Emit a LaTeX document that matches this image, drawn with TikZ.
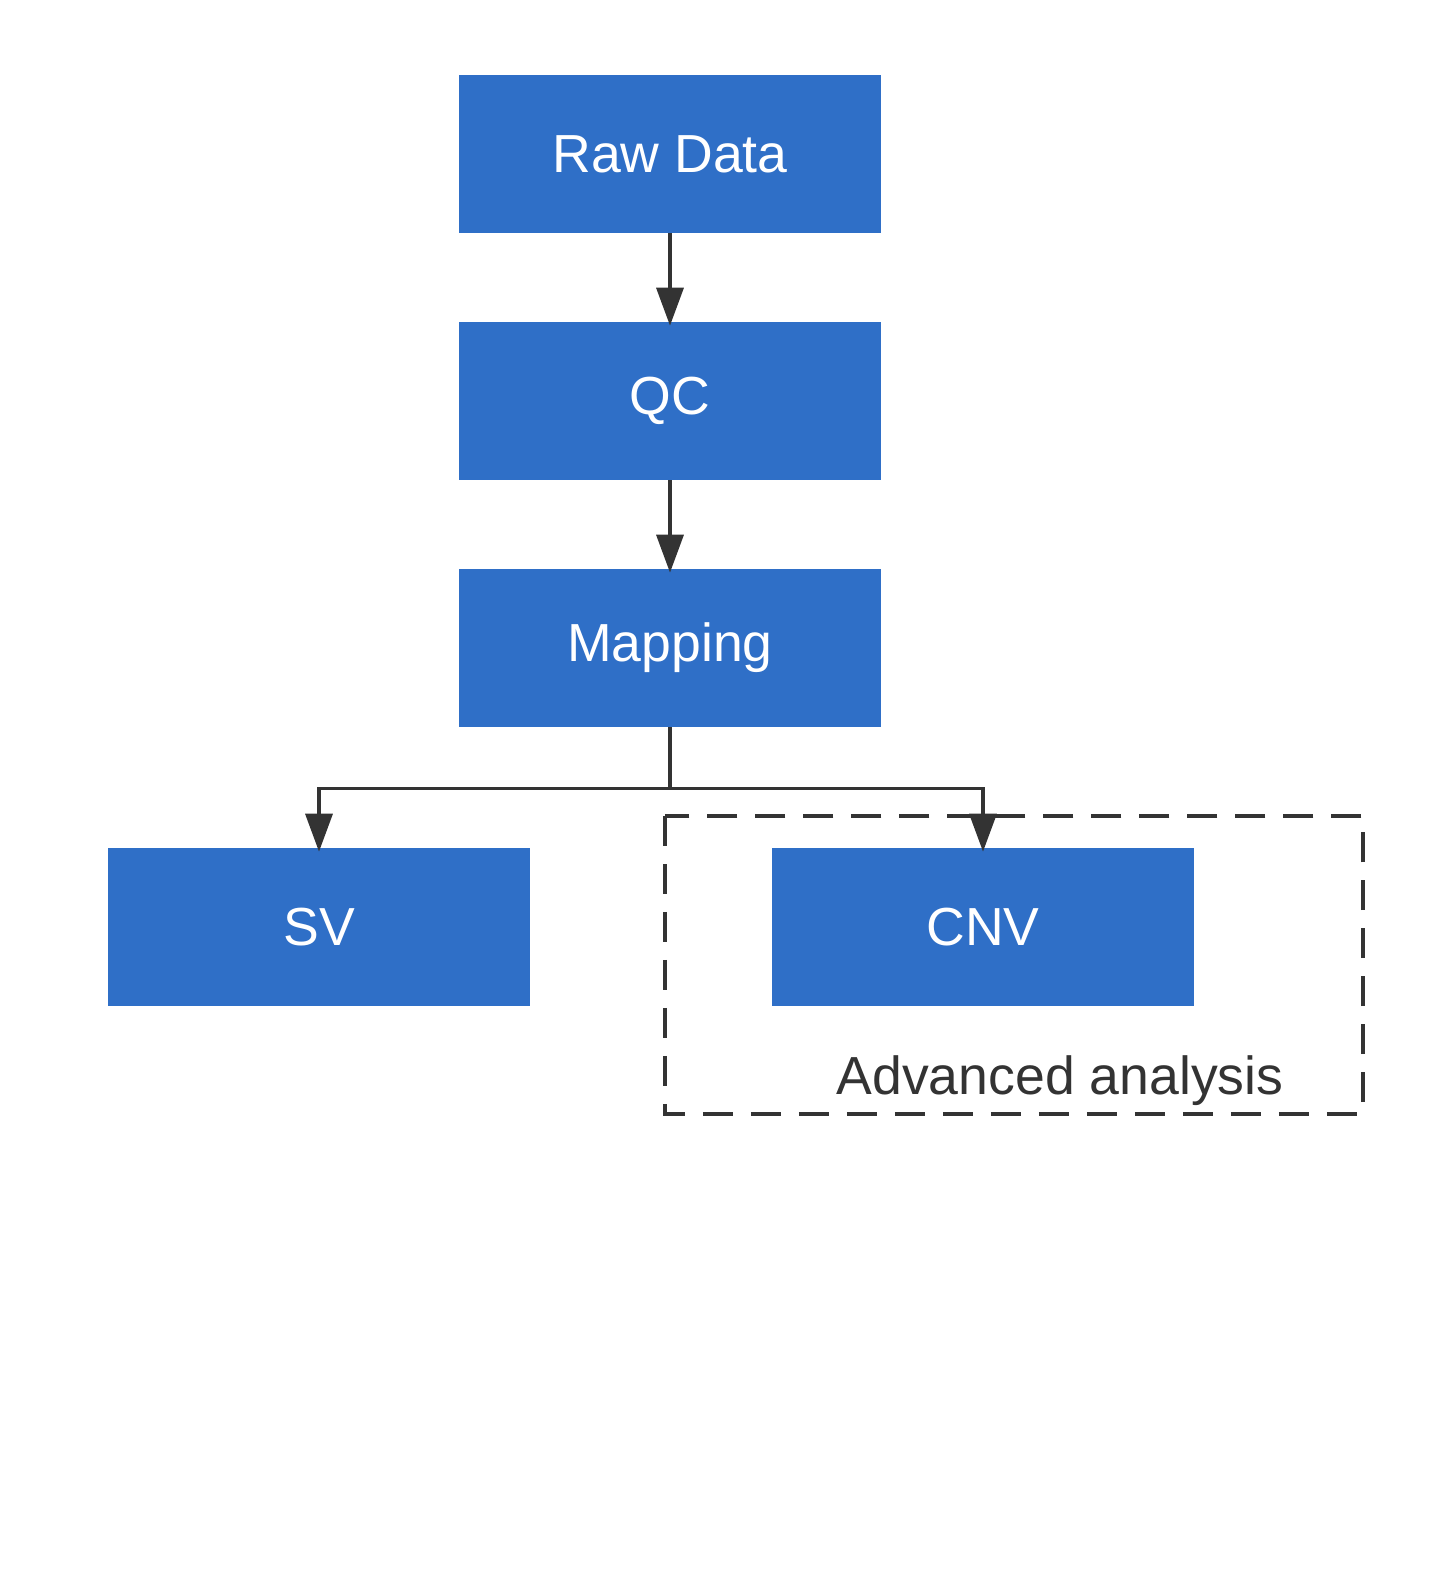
\documentclass[tikz,border=0pt]{standalone}
\usepackage{fontspec}
\setmainfont{Liberation Sans}
\usepackage{tikz}
\usetikzlibrary{arrows.meta}

\definecolor{boxblue}{RGB}{47,111,199}
\definecolor{linegray}{RGB}{51,51,51}

\begin{document}
\begin{tikzpicture}[x=0.02cm, y=-0.02cm,
    box/.style={fill=boxblue, text=white, minimum width=8.44cm, minimum height=3.16cm, inner sep=0pt, font=\fontsize{30.5}{36}\selectfont},
    link/.style={draw=linegray, line width=2pt, shorten >=-0.08cm, -{Triangle[length=0.76cm, width=0.54cm]}}]
    \useasboundingbox (0, 0) rectangle (1440, 1570);

    \node[box] (raw) at (670, 154) {Raw Data};
    \node[box] (qc) at (670, 401) {QC};
    \node[box] (map) at (670, 648) {Mapping};
    \node[box] (sv) at (319, 927) {SV};
    \node[box] (cnv) at (983, 927) {CNV};

    \draw[draw=linegray, line width=2pt, dash pattern=on 0.6cm off 0.36cm] (665, 816) rectangle (1363, 1114);
    \node[text=linegray, anchor=base, inner sep=0pt, font=\fontsize{30.5}{36}\selectfont] (adv) at (1060, 1094) {Advanced analysis};

    \draw[link] (raw) -- (qc);
    \draw[link] (qc) -- (map);
    \draw[link] (map.south) -- ++(0, 61) -| (sv.north);
    \draw[link] (map.south) -- ++(0, 61) -| (cnv.north);
  \end{tikzpicture}
\end{document}
